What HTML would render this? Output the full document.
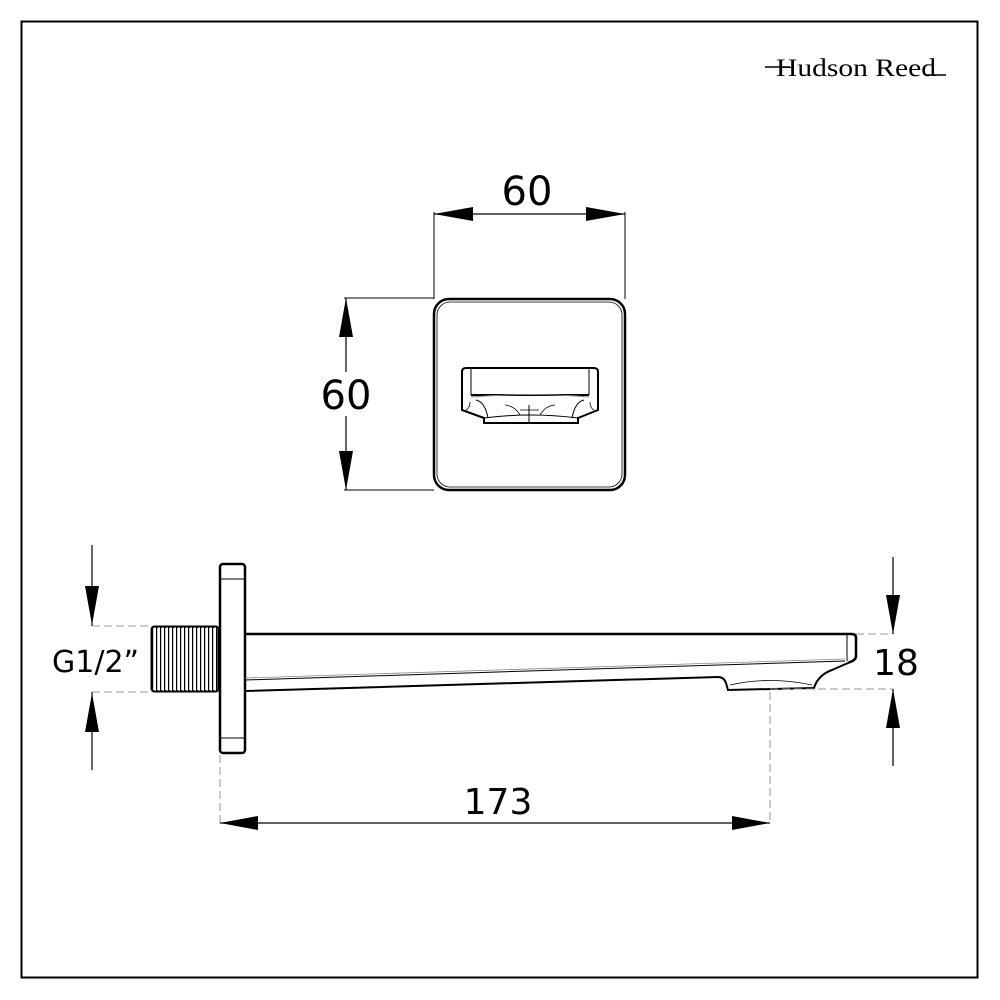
<!DOCTYPE html>
<html><head><meta charset="utf-8"><style>
html,body{margin:0;padding:0;background:#fff;}
svg{display:block;}
text{font-family:"DejaVu Sans","Liberation Sans",sans-serif;fill:#000;}
</style></head><body>
<svg width="1000" height="1000" viewBox="0 0 1000 1000" xmlns="http://www.w3.org/2000/svg">
<defs>
<pattern id="thr" x="152" y="0" width="4" height="10" patternUnits="userSpaceOnUse">
<rect x="0" y="0" width="1.2" height="10" fill="#000"/>
</pattern>
</defs>
<rect x="21.5" y="21.5" width="956" height="956" fill="none" stroke="#000" stroke-width="2"/>
<!-- logo -->
<text x="776" y="76" style="font-family:'Liberation Serif',serif" font-size="25" textLength="160" lengthAdjust="spacingAndGlyphs">Hudson Reed</text>
<line x1="765" y1="67" x2="790" y2="67" stroke="#000" stroke-width="1.5"/>
<line x1="925" y1="75" x2="946" y2="75" stroke="#000" stroke-width="1.5"/>

<!-- front view -->
<rect x="434" y="299" width="191" height="191" rx="15" fill="none" stroke="#000" stroke-width="2.5"/>
<rect x="437" y="302" width="185" height="185" rx="13" fill="none" stroke="#000" stroke-width="0.8"/>
<path d="M462 372 Q462 368 466 368 L594 368 Q598 368 598 372 L598 410 L578 418 L578 423 L484 423 L484 418 L462 410 Z" fill="none" stroke="#000" stroke-width="2"/>
<line x1="471" y1="369" x2="471" y2="395" stroke="#000" stroke-width="1"/>
<line x1="589" y1="369" x2="589" y2="395" stroke="#000" stroke-width="1"/>
<line x1="471" y1="395" x2="589" y2="395" stroke="#000" stroke-width="2"/>
<path d="M471 397 Q530 392 589 397" fill="none" stroke="#888" stroke-width="1"/>
<path d="M476 400 Q485 402 488 418" fill="none" stroke="#000" stroke-width="1"/>
<path d="M584 400 Q575 402 572 418" fill="none" stroke="#000" stroke-width="1"/>
<path d="M470 402 Q470 408 466 410" fill="none" stroke="#000" stroke-width="0.8"/>
<path d="M590 402 Q590 408 594 410" fill="none" stroke="#000" stroke-width="0.8"/>
<line x1="529" y1="405" x2="529" y2="423" stroke="#000" stroke-width="1"/>
<path d="M484 418 Q530 412 578 418" fill="none" stroke="#000" stroke-width="1"/>
<path d="M520 410 L539 410 M505 405 Q515 406 520 415 M555 405 Q545 406 540 415" fill="none" stroke="#000" stroke-width="0.8"/>

<!-- dim top 60 -->
<line x1="434" y1="212" x2="434" y2="299" stroke="#000" stroke-width="1"/>
<line x1="625" y1="212" x2="625" y2="299" stroke="#000" stroke-width="1"/>
<line x1="434" y1="214" x2="625" y2="214" stroke="#000" stroke-width="1.2"/>
<polygon points="434,214 473,207 473,221" fill="#000"/>
<polygon points="625,214 586,207 586,221" fill="#000"/>
<text x="527" y="205" font-size="40" text-anchor="middle">60</text>

<!-- dim left 60 -->
<line x1="344" y1="298" x2="434" y2="298" stroke="#000" stroke-width="1"/>
<line x1="344" y1="490" x2="434" y2="490" stroke="#000" stroke-width="1"/>
<line x1="346" y1="298" x2="346" y2="372" stroke="#000" stroke-width="1.2"/>
<line x1="346" y1="416" x2="346" y2="490" stroke="#000" stroke-width="1.2"/>
<polygon points="346,298 339,337 353,337" fill="#000"/>
<polygon points="346,490 339,451 353,451" fill="#000"/>
<text x="346" y="409" font-size="40" text-anchor="middle">60</text>

<!-- side view flange -->
<rect x="220" y="564" width="25" height="189" rx="3" fill="none" stroke="#000" stroke-width="2.5"/>
<line x1="221" y1="579" x2="244" y2="579" stroke="#000" stroke-width="1"/>
<line x1="221" y1="738" x2="244" y2="738" stroke="#000" stroke-width="1"/>
<!-- thread -->
<rect x="152" y="627" width="66" height="64" fill="url(#thr)"/>
<rect x="151.5" y="626.5" width="67" height="65" rx="3" fill="none" stroke="#000" stroke-width="2"/>
<path d="M152 627 L218 627 M152 691 L218 691" stroke="#000" stroke-width="2" stroke-dasharray="2 2"/>

<!-- spout -->
<path d="M245 634 L852 634 Q856 634 856 638 L856 656 Q856 660 850 662 L848 663" fill="none" stroke="#000" stroke-width="2.5"/>
<line x1="847" y1="635" x2="847" y2="661" stroke="#000" stroke-width="1"/>
<line x1="245" y1="680" x2="845" y2="661" stroke="#000" stroke-width="1"/>
<line x1="245" y1="678" x2="845" y2="659" stroke="#888" stroke-width="0.8"/>
<path d="M245 691 L718 677 Q724 677 726 683 L728 690 L814 688 Q818 675 832 670 L848 663" fill="none" stroke="#000" stroke-width="2"/>
<path d="M730 685 Q770 676 812 685" fill="none" stroke="#000" stroke-width="0.8"/>

<!-- dim 18 -->
<line x1="856" y1="634" x2="893" y2="634" stroke="#999" stroke-width="1" stroke-dasharray="8 4"/>
<line x1="770" y1="689" x2="893" y2="689" stroke="#999" stroke-width="1" stroke-dasharray="8 4"/>
<line x1="893" y1="557" x2="893" y2="634" stroke="#000" stroke-width="1.2"/>
<line x1="893" y1="689" x2="893" y2="766" stroke="#000" stroke-width="1.2"/>
<polygon points="893,634 886,595 900,595" fill="#000"/>
<polygon points="893,689 886,728 900,728" fill="#000"/>
<text x="896" y="675" font-size="36" text-anchor="middle">18</text>

<!-- dim G1/2 -->
<line x1="92" y1="626" x2="151" y2="626" stroke="#999" stroke-width="1" stroke-dasharray="8 4"/>
<line x1="92" y1="692" x2="151" y2="692" stroke="#999" stroke-width="1" stroke-dasharray="8 4"/>
<line x1="92" y1="545" x2="92" y2="626" stroke="#000" stroke-width="1.2"/>
<line x1="92" y1="692" x2="92" y2="770" stroke="#000" stroke-width="1.2"/>
<polygon points="92,625 85,586 99,586" fill="#000"/>
<polygon points="92,693 85,732 99,732" fill="#000"/>
<rect x="50" y="643" width="88" height="34" fill="#fff"/>
<text x="52" y="672" font-size="30">G1/2”</text>

<!-- dim 173 -->
<line x1="220" y1="755" x2="220" y2="823" stroke="#999" stroke-width="1" stroke-dasharray="8 4"/>
<line x1="770" y1="692" x2="770" y2="823" stroke="#999" stroke-width="1" stroke-dasharray="8 4"/>
<line x1="220" y1="823" x2="770" y2="823" stroke="#000" stroke-width="1.2"/>
<polygon points="220,823 258,816 258,830" fill="#000"/>
<polygon points="770,823 732,816 732,830" fill="#000"/>
<text x="498" y="814" font-size="36" text-anchor="middle">173</text>
</svg>
</body></html>
